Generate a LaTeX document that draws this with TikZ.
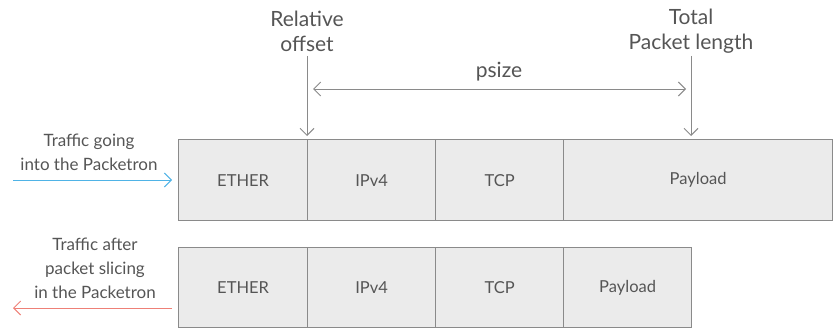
\documentclass[tikz,border=0pt]{standalone}
\usepackage{fontspec}
\setmainfont{Lato}
\usetikzlibrary{arrows.meta}
\definecolor{txt}{HTML}{555555}
\definecolor{boxfill}{HTML}{EBEBEB}
\definecolor{boxline}{HTML}{8A8A8A}
\definecolor{arr}{HTML}{8A8A8A}
\definecolor{bluearr}{HTML}{4FB3E6}
\definecolor{redarr}{HTML}{EE8077}
\tikzset{
  field/.style={draw=boxline, fill=boxfill, line width=1.2pt, inner sep=0pt, anchor=north west, text=txt, font=\fontsize{16.5}{18}\selectfont},
  toplabel/.style={text=txt, font=\fontsize{21}{25}\selectfont, align=center, inner sep=0pt},
  sidelabel/.style={text=txt, font=\fontsize{17}{24}\selectfont, align=center, inner sep=0pt},
  ptr/.style={draw=arr, line width=1pt, -{Straight Barb[length=7pt,width=14pt]}},
}
\begin{document}
\begin{tikzpicture}[x=1pt,y=-1pt]
\useasboundingbox (0,0) rectangle (837,329);
% row 1
\node[field, minimum width=129, minimum height=81] (e1) at (178,139) {ETHER};
\node[field, minimum width=128, minimum height=81] (i1) at (307,139) {IPv4};
\node[field, minimum width=128, minimum height=81] (t1) at (435,139) {TCP};
\node[field, minimum width=269, minimum height=81] (p1) at (563,139) {Payload};
% row 2
\node[field, minimum width=129, minimum height=80] (e2) at (178,247) {ETHER};
\node[field, minimum width=128, minimum height=80] (i2) at (307,247) {IPv4};
\node[field, minimum width=128, minimum height=80] (t2) at (435,247) {TCP};
\node[field, minimum width=128, minimum height=80] (p2) at (563,247) {Payload};
% top labels
\node[toplabel] (rel) at (307,31) {Relative\\offset};
\node[toplabel] (tot) at (691,31) {Total\\Packet length};
\coordinate (relend) at (307,136);
\coordinate (totend) at (691,136);
\draw[ptr] (307,56) -- (relend);
\draw[ptr] (691,56) -- (totend);
\coordinate (ps1) at (313,89);
\coordinate (ps2) at (686,89);
\draw[draw=arr, line width=1pt, {Straight Barb[length=7pt,width=14pt]}-{Straight Barb[length=7pt,width=14pt]}] (ps1) -- (ps2);
\node[toplabel] (psize) at (499,72) {psize};
% side labels
\node[sidelabel] (in) at (89,152) {Traffic going\\into the Packetron};
\node[sidelabel] (out) at (95,268) {Traffic after\\packet slicing\\in the Packetron};
\coordinate (b0) at (13,180);
\coordinate (b1) at (172,180);
\draw[draw=bluearr, line width=1pt, -{Straight Barb[length=7pt,width=14pt]}] (b0) -- (b1);
\coordinate (r0) at (172,308);
\coordinate (r1) at (13,308);
\draw[draw=redarr, line width=1pt, -{Straight Barb[length=7pt,width=14pt]}] (r0) -- (r1);
\end{tikzpicture}
\end{document}
